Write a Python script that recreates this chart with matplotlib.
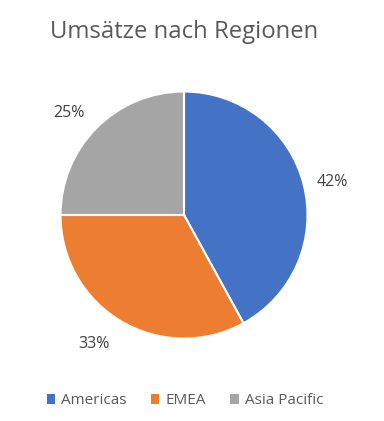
import matplotlib.pyplot as plt
import matplotlib.transforms as mtransforms
from matplotlib.patches import Patch

regions = ['Americas', 'EMEA', 'Asia Pacific']
shares = [42, 33, 25]
colors = ['#4472C4', '#ED7D31', '#A5A5A5']

plt.rcParams['font.family'] = ['Open Sans', 'DejaVu Sans']
text_color = '#595959'

W, H = 384, 421
fig = plt.figure(figsize=(W / 100, H / 100), dpi=100)

cx, cy, r = 184, 215, 123.5
ax = fig.add_axes([(cx - r) / W, 1 - (cy + r) / H, 2 * r / W, 2 * r / H])

wedges, texts, autotexts = ax.pie(
    shares, colors=colors, startangle=90, counterclock=False,
    autopct='%1.0f%%', pctdistance=1.24, radius=1,
    wedgeprops=dict(edgecolor='white', linewidth=1.5),
    textprops=dict(color='#404040', fontsize=11.5))
ax.set_xlim(-1, 1)
ax.set_ylim(-1, 1)
ax.set_aspect('equal')

# nudge labels (pixels) to sit where Excel puts them
nudges = [(0, -5), (-12, 3), (-7, -6)]
for t, (dx, dy) in zip(autotexts, nudges):
    t.set_transform(ax.transData + mtransforms.ScaledTranslation(dx / 100, dy / 100, fig.dpi_scale_trans))

fig.text(cx / W, 1 - 32 / H, 'Umsätze nach Regionen', ha='center', va='center',
         fontsize=17.2, color=text_color)

handles = [Patch(facecolor=c, edgecolor='none') for c in colors]
fig.legend(handles, regions, loc='center', bbox_to_anchor=(185 / W, 1 - 401 / H),
           ncol=3, frameon=False, fontsize=11, labelcolor=text_color,
           handlelength=0.55, handleheight=0.55, handletextpad=0.4, columnspacing=1.6)

fig.savefig('out.png', dpi=100, facecolor='white')
